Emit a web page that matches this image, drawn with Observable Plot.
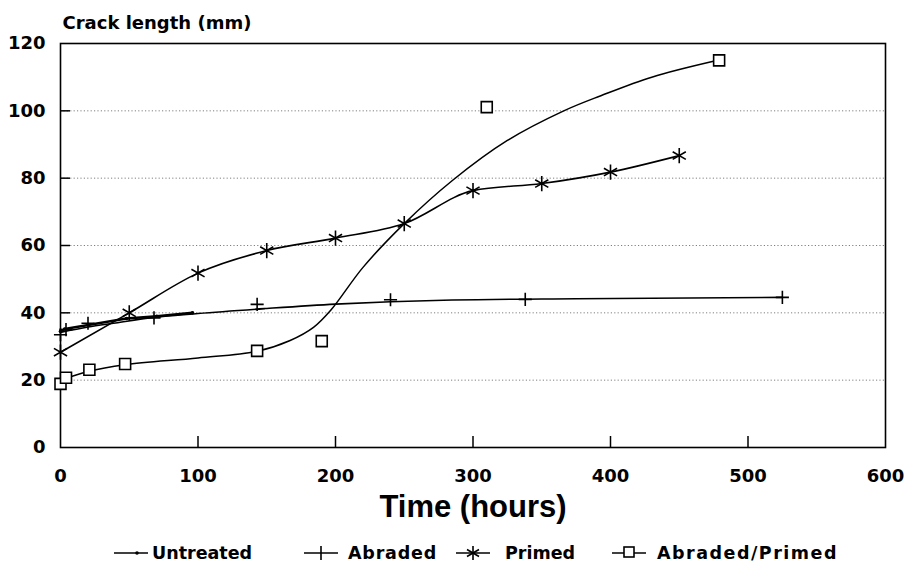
<!DOCTYPE html>
<html><head><meta charset="utf-8">
<script src="https://cdn.jsdelivr.net/npm/d3@7"></script>
<script src="https://cdn.jsdelivr.net/npm/@observablehq/plot@0.6"></script>
<style>
body{margin:0;background:#fff;}
#wrap{position:relative;width:909px;height:577px;overflow:hidden;}
#legend{position:absolute;top:540px;left:0;width:909px;height:26px;font:bold 17.5px "DejaVu Sans";color:#000;}
.sym{position:absolute;top:0;}
.lab{position:absolute;top:0;height:26px;line-height:26px;white-space:nowrap;}
</style></head><body><div id="wrap"><div id="chart"></div><div id="legend"></div></div>
<script>
// ---- data ----
const xTicks = [0, 100, 200, 300, 400, 500, 600];
const yTicks = [0, 20, 40, 60, 80, 100, 120];
const yGrid = [20, 40, 60, 80, 100];

const seriesNames = ["Untreated", "Abraded", "Primed", "Abraded/Primed"];

const untreatedTime   = [0, 3, 48, 70, 96];
const untreatedLength = [34.5, 35.2, 38.3, 39.0, 40.0];

const abradedTime   = [0, 4, 20, 68, 143, 240, 338, 525];
const abradedLength = [33.5, 35.0, 36.9, 38.5, 42.5, 43.9, 44.0, 44.6];
const abradedFitTime   = [0, 20, 40, 65, 100, 150, 200, 240, 285, 375, 525];
const abradedFitLength = [34.2, 35.8, 37.0, 38.5, 39.8, 41.3, 42.6, 43.3, 43.8, 44.2, 44.6];

const primedTime   = [0, 50, 100, 150, 200, 250, 300, 350, 400, 450];
const primedLength = [28.3, 40.0, 51.8, 58.5, 62.2, 66.5, 76.3, 78.4, 81.8, 86.7];

const abrPrimedTime   = [0, 4, 21, 47, 143, 190, 310, 479];
const abrPrimedLength = [18.9, 20.7, 23.1, 24.8, 28.7, 31.6, 101.1, 115.0];
const abrPrimedFitTime   = [0, 20, 47, 100, 143, 167, 184, 197, 220, 250, 285, 325, 366, 393, 430, 478];
const abrPrimedFitLength = [20.0, 22.6, 24.6, 26.6, 28.6, 31.8, 35.7, 41.0, 53.5, 66.5, 79.3, 91.2, 100.0, 104.5, 110.0, 115.0];

// ---- tables ----
const pts = (t, l) => t.map((d, i) => ({time: d, length: l[i]}));
const untreated = pts(untreatedTime, untreatedLength);
const abraded = pts(abradedTime, abradedLength);
const abradedFit = pts(abradedFitTime, abradedFitLength);
const primed = pts(primedTime, primedLength);
const abrPrimed = pts(abrPrimedTime, abrPrimedLength);
const abrPrimedFit = pts(abrPrimedFitTime, abrPrimedFitLength);

const W = 909, H = 530, mL = 60, mR = 24, mT = 43, mB = 83;
const plotW = W - mL - mR, plotH = H - mT - mB;
const tickLen = 10;
const numFont = "DejaVu Sans";

const chart = Plot.plot({
  width: W, height: H,
  marginLeft: mL, marginRight: mR, marginTop: mT, marginBottom: mB,
  style: {background: "#fff", color: "#000", fontFamily: numFont, fontWeight: "bold"},
  x: {domain: [0, 600], ticks: xTicks},
  y: {domain: [0, 120], ticks: yTicks},
  marks: [
    Plot.gridY(yGrid, {stroke: "#000", strokeOpacity: 0.5, strokeDasharray: "1.2,2.2", strokeWidth: 1}),
    Plot.axisX(xTicks, {tickSize: 0, tickPadding: 22, fontSize: 18, fontWeight: "bold", label: null}),
    Plot.axisY(yTicks, {tickSize: 0, tickPadding: 15, fontSize: 18, fontWeight: "bold", label: null}),
    Plot.tickX(xTicks.slice(1, -1), {x: d => d, insetTop: plotH - tickLen - 1, stroke: "#000", strokeWidth: 1.5}),
    Plot.tickY(yTicks.slice(1, -1), {y: d => d, insetRight: plotW - tickLen, stroke: "#000", strokeWidth: 1.5}),
    Plot.frame({stroke: "#000", strokeWidth: 1.6}),
    // fitted / connecting lines
    Plot.line(untreated, {x: "time", y: "length", stroke: "#000", strokeWidth: 2.5}),
    Plot.line(abradedFit, {x: "time", y: "length", curve: "monotone-x", stroke: "#000", strokeWidth: 1.6}),
    Plot.line(primed, {x: "time", y: "length", curve: "monotone-x", stroke: "#000", strokeWidth: 1.6}),
    Plot.line(abrPrimedFit, {x: "time", y: "length", curve: "catmull-rom", stroke: "#000", strokeWidth: 1.5}),
    // markers
    Plot.dot(untreated, {x: "time", y: "length", r: 1.8, fill: "#000", stroke: "none"}),
    Plot.dot(abraded, {x: "time", y: "length", symbol: "plus", r: 4.3, stroke: "#000", strokeWidth: 1.6}),
    Plot.dot(primed, {x: "time", y: "length", symbol: "asterisk", r: 7.2, stroke: "#000", strokeWidth: 1.6}),
    Plot.dot(abrPrimed, {x: "time", y: "length", symbol: "square", r: 6.2, fill: "#fff", stroke: "#000", strokeWidth: 1.6}),
    // axis titles
    Plot.text(["Crack length (mm)"], {frameAnchor: "top-left", dx: 2, dy: -20, textAnchor: "start", lineAnchor: "middle", fontSize: 18, fontWeight: "bold", fontFamily: numFont}),
    Plot.text(["Time (hours)"], {frameAnchor: "bottom", dy: 60, lineAnchor: "middle", fontSize: 31, fontWeight: "bold", fontFamily: "Liberation Sans"})
  ]
});
document.getElementById("chart").appendChild(chart);

// ---- legend ----
const legendSymLeft = [113, 303, 455, 611];
const legendTextLeft = [152, 348, 505, 657];
const legendSpacing = [0, 0.8, 0, 1.5];
const legend = document.getElementById("legend");
const icons = [
  '<line x1="1" y1="13" x2="35" y2="13" stroke="#000" stroke-width="1.6"/><circle cx="24" cy="13" r="1.8" fill="#000"/>',
  '<line x1="1" y1="13" x2="35" y2="13" stroke="#000" stroke-width="1.6"/><line x1="18" y1="6" x2="18" y2="20" stroke="#000" stroke-width="1.6"/>',
  '<line x1="1" y1="13" x2="35" y2="13" stroke="#000" stroke-width="1.6"/><line x1="18" y1="6" x2="18" y2="20" stroke="#000" stroke-width="1.6"/><line x1="12" y1="9.5" x2="24" y2="16.5" stroke="#000" stroke-width="1.6"/><line x1="12" y1="16.5" x2="24" y2="9.5" stroke="#000" stroke-width="1.6"/>',
  '<line x1="1" y1="13" x2="35" y2="13" stroke="#000" stroke-width="1.6"/><rect x="13" y="7" width="10" height="10" fill="#fff" stroke="#000" stroke-width="1.6"/>'
];
seriesNames.forEach((name, i) => {
  const s = document.createElement("div");
  s.className = "sym";
  s.style.left = legendSymLeft[i] + "px";
  s.innerHTML = `<svg width="36" height="26">${icons[i]}</svg>`;
  legend.appendChild(s);
  const t = document.createElement("div");
  t.className = "lab";
  t.style.left = legendTextLeft[i] + "px";
  t.style.letterSpacing = legendSpacing[i] + "px";
  t.textContent = name;
  legend.appendChild(t);
});
</script>
</body></html>
